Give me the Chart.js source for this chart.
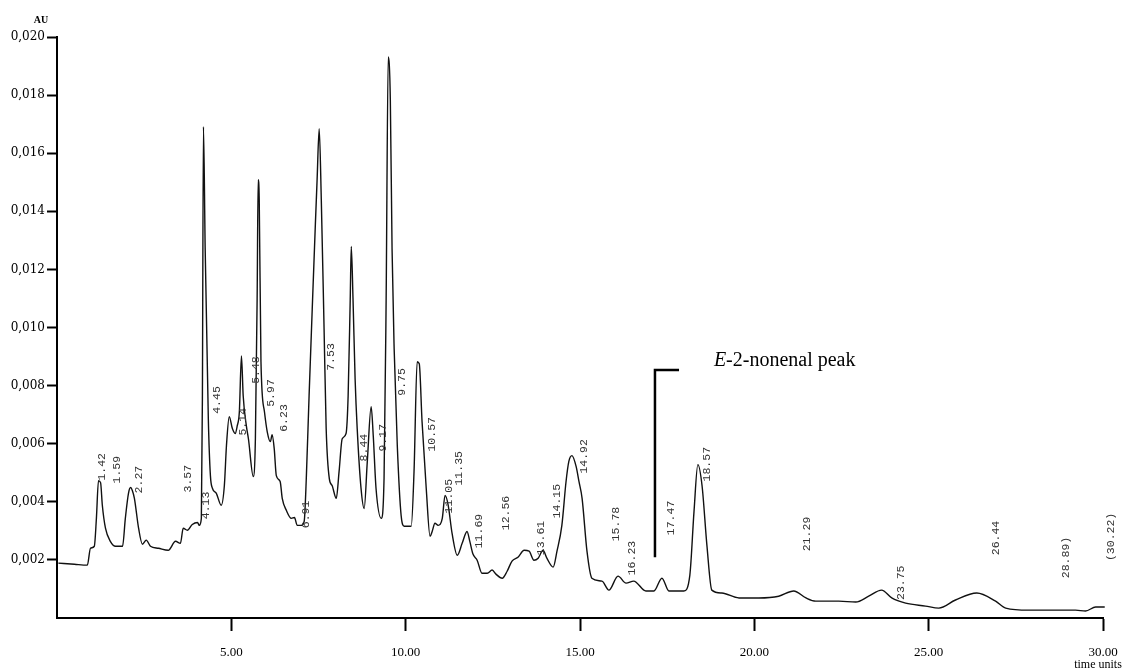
<!DOCTYPE html>
<html><head><meta charset="utf-8">
<script src="https://cdn.jsdelivr.net/npm/chart.js@4.4.0/dist/chart.umd.min.js"></script>
<style>html,body{margin:0;padding:0;background:#fff;}#wrap{width:1128px;height:670px;}</style>
</head><body><div id="wrap"><canvas id="c" width="1128" height="670"></canvas></div>
<script>
// retention time (time units) and absorbance (AU)
const times = [0.04,0.50,0.87,0.96,1.07,1.13,1.19,1.25,1.30,1.39,1.53,1.68,1.88,1.96,2.05,2.11,2.16,2.22,2.34,2.45,2.56,2.68,2.91,3.19,3.40,3.54,3.62,3.74,3.88,4.03,4.08,4.14,4.17,4.20,4.25,4.34,4.40,4.46,4.57,4.71,4.80,4.86,4.94,5.03,5.11,5.17,5.23,5.29,5.34,5.43,5.49,5.63,5.69,5.74,5.77,5.80,5.85,5.95,6.03,6.12,6.17,6.23,6.29,6.40,6.46,6.58,6.72,6.81,6.89,7.01,7.09,7.15,7.23,7.32,7.41,7.46,7.52,7.58,7.66,7.72,7.81,7.89,8.01,8.09,8.18,8.29,8.35,8.41,8.44,8.49,8.55,8.61,8.72,8.81,8.90,9.01,9.07,9.15,9.30,9.38,9.44,9.50,9.56,9.61,9.67,9.76,9.87,9.96,10.16,10.24,10.33,10.39,10.47,10.59,10.70,10.76,10.84,10.93,11.05,11.13,11.22,11.33,11.48,11.62,11.76,11.84,11.93,12.05,12.19,12.34,12.48,12.59,12.77,12.91,13.05,13.22,13.40,13.54,13.68,13.80,13.94,14.05,14.23,14.34,14.48,14.60,14.68,14.77,14.89,14.97,15.06,15.20,15.34,15.63,15.83,16.09,16.32,16.54,16.89,17.12,17.35,17.55,17.98,18.15,18.27,18.38,18.50,18.64,18.78,19.07,19.56,20.13,20.70,21.13,21.48,21.76,22.42,22.91,23.28,23.65,23.94,24.34,24.91,25.29,25.77,26.38,26.92,27.21,27.87,28.64,29.21,29.50,29.79,30.05];
const absorbance = [0.00189,0.00185,0.00182,0.00240,0.00247,0.00343,0.00473,0.00466,0.00388,0.00309,0.00264,0.00247,0.00247,0.00343,0.00429,0.00449,0.00439,0.00412,0.00309,0.00254,0.00268,0.00247,0.00240,0.00233,0.00264,0.00257,0.00309,0.00302,0.00322,0.00329,0.00319,0.00343,0.00755,0.01691,0.01269,0.00686,0.00490,0.00446,0.00429,0.00388,0.00456,0.00593,0.00693,0.00652,0.00635,0.00662,0.00710,0.00902,0.00765,0.00662,0.00617,0.00487,0.00617,0.01098,0.01509,0.01441,0.00882,0.00710,0.00641,0.00607,0.00631,0.00583,0.00490,0.00470,0.00412,0.00370,0.00343,0.00346,0.00319,0.00319,0.00333,0.00480,0.00765,0.01063,0.01355,0.01509,0.01684,0.01441,0.00995,0.00652,0.00480,0.00456,0.00412,0.00504,0.00617,0.00635,0.00765,0.01098,0.01279,0.01098,0.00823,0.00652,0.00446,0.00377,0.00539,0.00727,0.00628,0.00446,0.00343,0.00480,0.01098,0.01931,0.01784,0.01269,0.00926,0.00593,0.00353,0.00316,0.00316,0.00504,0.00882,0.00875,0.00676,0.00446,0.00281,0.00298,0.00326,0.00319,0.00343,0.00422,0.00388,0.00292,0.00216,0.00257,0.00298,0.00264,0.00220,0.00199,0.00154,0.00154,0.00165,0.00151,0.00137,0.00161,0.00196,0.00209,0.00233,0.00230,0.00199,0.00206,0.00233,0.00206,0.00175,0.00230,0.00319,0.00470,0.00539,0.00559,0.00521,0.00470,0.00412,0.00230,0.00137,0.00127,0.00096,0.00144,0.00120,0.00127,0.00093,0.00093,0.00137,0.00093,0.00093,0.00147,0.00367,0.00528,0.00456,0.00250,0.00096,0.00086,0.00069,0.00069,0.00075,0.00093,0.00069,0.00058,0.00058,0.00055,0.00075,0.00096,0.00069,0.00051,0.00041,0.00034,0.00062,0.00086,0.00058,0.00034,0.00027,0.00027,0.00027,0.00024,0.00038,0.00038];

// peak annotations printed by the integrator
const peakLabels = ['1.42','1.59','2.27','3.57','4.13','4.45','5.14','5.48','5.97','6.23','6.91','7.53','8.44','9.17','9.75','10.57','11.05','11.35','11.69','12.56','13.61','14.15','14.92','15.78','16.23','17.47','18.57','21.29','23.75','26.44','28.89)','(30.22)'];
const peakLabelTimes = [1.28,1.73,2.34,3.77,4.28,4.60,5.34,5.72,6.15,6.52,7.15,7.87,8.81,9.36,9.90,10.76,11.25,11.53,12.11,12.88,13.88,14.34,15.11,16.03,16.49,17.61,18.64,21.50,24.20,26.92,28.95,30.24];
const peakLabelLevels = [0.00473,0.00463,0.00429,0.00432,0.00340,0.00703,0.00628,0.00806,0.00727,0.00641,0.00309,0.00851,0.00539,0.00573,0.00765,0.00573,0.00360,0.00456,0.00240,0.00302,0.00216,0.00343,0.00497,0.00264,0.00147,0.00285,0.00470,0.00230,0.00062,0.00216,0.00137,0.00196];

// E-2-nonenal bracket
const bracketTimes = [17.84,17.15,17.15];
const bracketLevels = [0.00854,0.00854,0.00209];
const calloutText = ['E','-2-nonenal peak'];
const calloutTime = 18.84, calloutLevel = 0.00868;

const xTicks = [5,10,15,20,25,30];
const yAxisUnit = 'AU', xAxisUnit = 'time units';

const overlay = {
  id: 'overlay',
  afterDatasetsDraw(chart) {
    const {ctx, scales: {x, y}} = chart;
    ctx.save();
    ctx.fillStyle = '#333';
    ctx.font = '11.5px "Liberation Mono", "DejaVu Sans Mono", monospace';
    ctx.textAlign = 'left';
    ctx.textBaseline = 'middle';
    peakLabels.forEach((t, i) => {
      const px = x.getPixelForValue(peakLabelTimes[i]);
      const py = y.getPixelForValue(peakLabelLevels[i]);
      ctx.save(); ctx.translate(px, py); ctx.rotate(-Math.PI / 2); ctx.fillText(t, 0, 0); ctx.restore();
    });
    // callout text
    ctx.fillStyle = '#000';
    ctx.textBaseline = 'alphabetic';
    let cx = x.getPixelForValue(calloutTime);
    const cy = y.getPixelForValue(calloutLevel);
    ctx.font = 'italic 20px "Liberation Serif", serif';
    ctx.fillText(calloutText[0], cx, cy);
    cx += ctx.measureText(calloutText[0]).width;
    ctx.font = '20px "Liberation Serif", serif';
    ctx.fillText(calloutText[1], cx, cy);
    // axis unit labels
    ctx.textAlign = 'center';
    ctx.textBaseline = 'middle';
    ctx.font = 'bold 10px "Liberation Serif", serif';
    ctx.fillText(yAxisUnit, x.left - 16, y.top - 17);
    ctx.font = '12px "Liberation Serif", serif';
    ctx.fillText(xAxisUnit, x.right - 5, 665);
    ctx.restore();
  }
};

new Chart(document.getElementById('c'), {
  type: 'scatter',
  data: {
    datasets: [
      {
        data: times.map((t, i) => ({x: t, y: absorbance[i]})),
        showLine: true, borderColor: '#111', borderWidth: 1.4, pointRadius: 0,
        cubicInterpolationMode: 'monotone', clip: false
      },
      {
        data: bracketTimes.map((t, i) => ({x: t, y: bracketLevels[i]})),
        showLine: true, borderColor: '#000', borderWidth: 2.5, pointRadius: 0, tension: 0
      }
    ]
  },
  options: {
    responsive: false, animation: false, devicePixelRatio: 1,
    layout: {padding: {left: 0, right: 25, top: 37, bottom: 0}},
    plugins: {legend: {display: false}, tooltip: {enabled: false}},
    scales: {
      x: {
        type: 'linear', min: 0, max: 30,
        afterBuildTicks: (s) => { s.ticks = [{value: 0}].concat(xTicks.map(v => ({value: v}))); },
        afterFit: (s) => { s.height = 52; s.paddingRight = 0; s.paddingLeft = 0; },
        grid: {drawOnChartArea: false, tickLength: 13, tickWidth: 2,
               tickColor: (c) => c.tick && c.tick.value === 0 ? 'rgba(0,0,0,0)' : '#000'},
        border: {display: true, color: '#000', width: 2},
        ticks: {color: '#000', padding: 14, font: {family: '"Liberation Serif", serif', size: 13},
                callback: (v) => v === 0 ? '' : v.toFixed(2), maxRotation: 0}
      },
      y: {
        min: 0, max: 0.02,
        afterBuildTicks: (s) => { const t = []; for (let i = 1; i <= 10; i++) t.push({value: i * 0.002}); s.ticks = t; },
        afterFit: (s) => { s.width = 57; },
        grid: {drawOnChartArea: false, tickLength: 10, tickWidth: 2, tickColor: '#000'},
        border: {display: true, color: '#000', width: 2},
        ticks: {color: '#000', padding: 2, font: {family: '"DejaVu Serif", serif', size: 12},
                callback: (v) => v.toFixed(3).replace('.', ',')}
      }
    }
  },
  plugins: [overlay]
});
</script></body></html>
